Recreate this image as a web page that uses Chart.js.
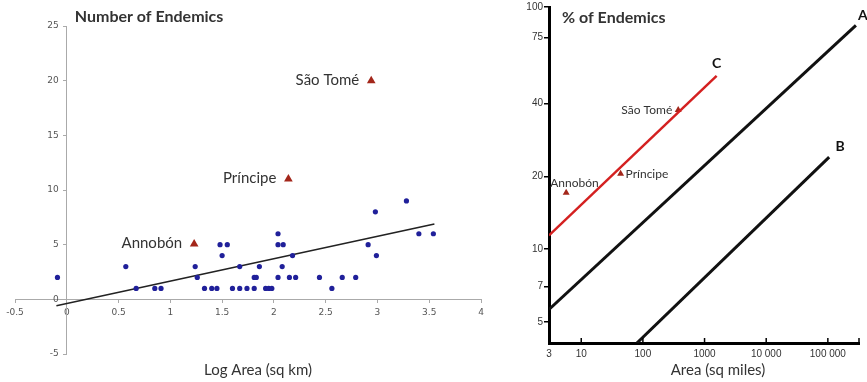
<!DOCTYPE html>
<html>
<head>
<meta charset="utf-8">
<script src="https://cdn.jsdelivr.net/npm/chart.js@4/dist/chart.umd.min.js"></script>
<style>
    body { margin: 0; background: #fff; }
    #wrap { position: relative; width: 867px; height: 382px; overflow: hidden; }
    canvas { position: absolute; top: 0; }
    #leftChart { left: 0; }
    #rightChart { left: 500px; }
</style>
</head>
<body>
<div id="wrap">
    <canvas id="leftChart" width="500" height="382"></canvas>
    <canvas id="rightChart" width="367" height="382"></canvas>
</div>
<script>
// Left panel: number of endemics vs log area (sq km)
const logAreaTicks = [-0.5, 0, 0.5, 1, 1.5, 2, 2.5, 3, 3.5, 4];
const endemicTicks = [-5, 0, 5, 10, 15, 20, 25];

const islandLogArea = [-0.09, 0.57, 0.67, 0.85, 0.91, 1.24, 1.26, 1.33, 1.40, 1.45,
    1.48, 1.55, 1.50, 1.60, 1.67, 1.67, 1.74, 1.81, 1.81, 1.83,
    1.86, 1.92, 1.95, 1.98, 2.04, 2.04, 2.09, 2.04, 2.08, 2.15,
    2.18, 2.21, 2.44, 2.56, 2.66, 2.79, 2.91, 2.98, 2.99, 3.28,
    3.40, 3.54];
const islandEndemics = [2, 3, 1, 1, 1, 3, 2, 1, 1, 1,
    5, 5, 4, 1, 1, 3, 1, 1, 2, 2,
    3, 1, 1, 1, 6, 5, 5, 2, 3, 2,
    4, 2, 2, 1, 2, 2, 5, 8, 4, 9,
    6, 6];

const trendLogArea = [-0.1, 3.55];
const trendEndemics = [-0.58, 6.89];

const gulfNames = ['Annobón', 'Príncipe', 'São Tomé'];
const gulfLogArea = [1.23, 2.14, 2.94];
const gulfEndemics = [5.05, 11, 20];

// Right panel: % of endemics vs area (sq miles), log-log
const areaTicks = [3, 10, 100, 1000, 10000, 100000];
const areaTickLabels = ['3', '10', '100', '1000', '10 000', '100 000'];
const pctTicks = [5, 7, 10, 20, 40, 75, 100];

const lineNames = ['A', 'B', 'C'];
const lineAArea = [3, 285000];
const lineAPct = [5.64, 84];
const lineBArea = [80, 105000];
const lineBPct = [4.1, 24];
const lineCArea = [3, 1570];
const lineCPct = [11.4, 52];

const gulfAreaSqMi = [5.7, 43.5, 374];
const gulfPctEndemic = [17.1, 20.5, 37.6];

const toPoints = (xs, ys) => xs.map((v, i) => ({ x: v, y: ys[i] }));

const leftText = {
    id: 'leftText',
    afterDatasetsDraw(chart) {
        const { ctx, chartArea, scales: { x, y } } = chart;
        ctx.save();
        // y tick labels sit just left of the centred y axis
        ctx.fillStyle = '#555';
        ctx.font = '9px "DejaVu Sans"';
        ctx.textAlign = 'right';
        ctx.textBaseline = 'middle';
        endemicTicks.forEach(v => {
            ctx.fillText(String(v), x.getPixelForValue(0) - 8, y.getPixelForValue(v));
        });

        ctx.fillStyle = '#333';
        ctx.font = '15px Lato';
        gulfNames.forEach((name, i) => {
            ctx.fillText(name, x.getPixelForValue(gulfLogArea[i]) - 12, y.getPixelForValue(gulfEndemics[i]) - 1);
        });
        ctx.textAlign = 'left';
        ctx.font = 'bold 16px Lato';
        ctx.fillText('Number of Endemics', x.getPixelForValue(0) + 8, 17);
        ctx.textAlign = 'center';
        ctx.font = '15px Lato';
        ctx.fillText('Log Area (sq km)', chartArea.left + 243, 370);
        ctx.restore();
    }
};

const rightText = {
    id: 'rightText',
    afterDatasetsDraw(chart) {
        const { ctx, chartArea, scales: { x, y } } = chart;
        ctx.save();
        // small inward ticks on the area axis
        ctx.strokeStyle = '#000';
        ctx.lineWidth = 1.5;
        const tickXs = areaTicks.slice(1).map(v => x.getPixelForValue(v)).concat([chartArea.right]);
        tickXs.forEach(px => {
            ctx.beginPath();
            ctx.moveTo(px, chartArea.bottom);
            ctx.lineTo(px, chartArea.bottom - 5);
            ctx.stroke();
        });

        ctx.fillStyle = '#333';
        ctx.textBaseline = 'middle';
        ctx.font = '12px Lato';
        const px = gulfAreaSqMi.map(v => x.getPixelForValue(v));
        const py = gulfPctEndemic.map(v => y.getPixelForValue(v));
        ctx.textAlign = 'left';
        ctx.fillText(gulfNames[0], px[0] - 16, py[0] - 10);
        ctx.fillText(gulfNames[1], px[1] + 5, py[1]);
        ctx.textAlign = 'right';
        ctx.fillText(gulfNames[2], px[2] - 6, py[2]);

        // line letters at the line ends
        ctx.fillStyle = '#111';
        ctx.font = 'bold 14px Lato';
        ctx.textAlign = 'center';
        const ends = [
            [lineAArea[1], lineAPct[1], 7, -10],
            [lineBArea[1], lineBPct[1], 11, -11],
            [lineCArea[1], lineCPct[1], 0, -12]
        ];
        ends.forEach((e, i) => {
            ctx.fillText(lineNames[i], x.getPixelForValue(e[0]) + e[2], y.getPixelForValue(e[1]) + e[3]);
        });

        ctx.fillStyle = '#333';
        ctx.textAlign = 'left';
        ctx.font = 'bold 16px Lato';
        ctx.fillText('% of Endemics', chartArea.left + 13, 18);
        ctx.textAlign = 'center';
        ctx.font = '15px Lato';
        ctx.fillText('Area (sq miles)', chartArea.left + 169, 370);
        ctx.restore();
    }
};

new Chart(document.getElementById('leftChart'), {
    type: 'scatter',
    data: {
        datasets: [
            {
                data: toPoints(islandLogArea, islandEndemics),
                backgroundColor: '#20209a',
                borderWidth: 0,
                pointRadius: 2.6
            },
            {
                data: toPoints(trendLogArea, trendEndemics),
                showLine: true,
                borderColor: '#222',
                borderWidth: 1.6,
                pointRadius: 0
            },
            {
                data: toPoints(gulfLogArea, gulfEndemics),
                pointStyle: 'triangle',
                pointRadius: 5,
                backgroundColor: '#a3261a',
                borderWidth: 0
            }
        ]
    },
    options: {
        responsive: false,
        animation: false,
        devicePixelRatio: 1,
        layout: { padding: { left: 15, right: 19, top: 26, bottom: 28 } },
        plugins: { legend: { display: false }, tooltip: { enabled: false } },
        scales: {
            x: {
                type: 'linear',
                position: { y: 0 },
                min: -0.5,
                max: 4,
                afterBuildTicks: s => { s.ticks = logAreaTicks.map(v => ({ value: v })); },
                ticks: {
                    callback: v => String(v),
                    autoSkip: false,
                    maxRotation: 0,
                    padding: 5,
                    color: '#555',
                    font: { family: 'DejaVu Sans', size: 9 }
                },
                grid: { drawOnChartArea: false, tickLength: 3, color: '#aaa' },
                border: { color: '#aaa', width: 1 }
            },
            y: {
                type: 'linear',
                position: { x: 0 },
                min: -5,
                max: 25,
                afterBuildTicks: s => { s.ticks = endemicTicks.map(v => ({ value: v })); },
                ticks: { display: false },
                grid: { drawOnChartArea: false, tickLength: 3, color: '#aaa' },
                border: { color: '#aaa', width: 1 }
            }
        }
    },
    plugins: [leftText]
});

new Chart(document.getElementById('rightChart'), {
    type: 'scatter',
    data: {
        datasets: [
            {
                data: toPoints(lineAArea, lineAPct),
                showLine: true,
                borderColor: '#111',
                borderWidth: 3,
                pointRadius: 0
            },
            {
                data: toPoints(lineBArea, lineBPct),
                showLine: true,
                borderColor: '#111',
                borderWidth: 3,
                pointRadius: 0
            },
            {
                data: toPoints(lineCArea, lineCPct),
                showLine: true,
                borderColor: '#d42020',
                borderWidth: 2.5,
                pointRadius: 0
            },
            {
                data: toPoints(gulfAreaSqMi, gulfPctEndemic),
                pointStyle: 'triangle',
                pointRadius: 4,
                backgroundColor: '#a3261a',
                borderWidth: 0
            }
        ]
    },
    options: {
        responsive: false,
        animation: false,
        devicePixelRatio: 1,
        layout: { padding: { left: 0, right: 8, top: 5, bottom: 0 } },
        plugins: { legend: { display: false }, tooltip: { enabled: false } },
        scales: {
            x: {
                type: 'logarithmic',
                position: 'bottom',
                min: 3,
                max: 320000,
                afterBuildTicks: s => { s.ticks = areaTicks.map(v => ({ value: v })); },
                afterFit: s => { s.height = 39; },
                ticks: {
                    callback: (v, i) => areaTickLabels[i],
                    autoSkip: false,
                    maxRotation: 0,
                    padding: 5,
                    color: '#333',
                    font: { family: 'Liberation Sans', size: 10 }
                },
                grid: { drawOnChartArea: false, drawTicks: false },
                border: { color: '#000', width: 3 }
            },
            y: {
                type: 'logarithmic',
                position: 'left',
                min: 4.1,
                max: 100,
                afterBuildTicks: s => { s.ticks = pctTicks.map(v => ({ value: v })); },
                afterFit: s => { s.width = 49; },
                ticks: {
                    callback: v => String(v),
                    autoSkip: false,
                    padding: 1,
                    color: '#333',
                    font: { family: 'Liberation Sans', size: 10 }
                },
                grid: { drawOnChartArea: false, tickLength: 5, color: '#000', lineWidth: 1.5 },
                border: { color: '#000', width: 3 }
            }
        }
    },
    plugins: [rightText]
});
</script>
</body>
</html>
